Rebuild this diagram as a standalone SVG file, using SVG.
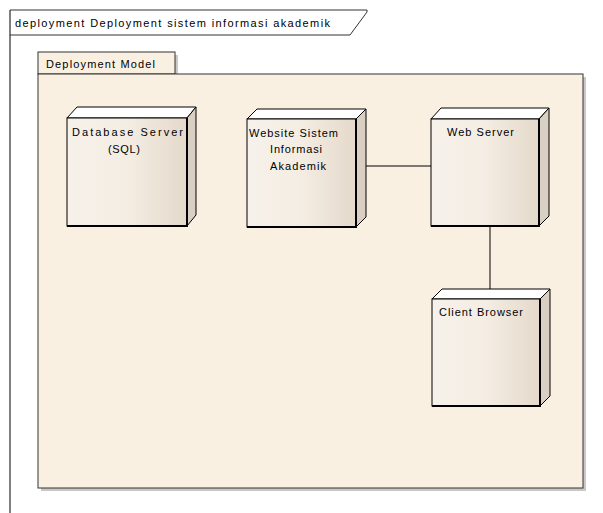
<svg xmlns="http://www.w3.org/2000/svg" width="603" height="513" viewBox="0 0 603 513">
<defs>
<linearGradient id="face" x1="0" y1="0" x2="1" y2="0">
<stop offset="0" stop-color="#F6F1EA"/>
<stop offset="0.5" stop-color="#F4EDE3"/>
<stop offset="1" stop-color="#E4D9CA"/>
</linearGradient>
<style>
text{font-family:"Liberation Sans",Arial,sans-serif;font-size:11px;fill:#000}
.front{fill:url(#face);stroke:#000;stroke-width:1}
.top{fill:#FFFFFF;stroke:#000;stroke-width:1}
.side{fill:#D9D0C3;stroke:#000;stroke-width:1}
.edge{stroke:#000;stroke-width:2;fill:none}
.conn{stroke:#000;stroke-width:1;fill:none}
</style>
</defs>
<rect width="603" height="513" fill="#FFFFFF"/>
<g id="frame">
<line x1="10" y1="10" x2="10" y2="513" stroke="#555" stroke-width="1.5"/>
<polyline points="10,10 367,10 367,12 350,35 10,35" fill="none" stroke="#333" stroke-width="1"/>
<text x="15" y="27" textLength="315" lengthAdjust="spacing">deployment Deployment sistem informasi akademik</text>
</g>
<g id="package">
<rect x="41" y="55" width="137" height="22" fill="#C8C8C8"/>
<rect x="41" y="77" width="545" height="414" fill="#C8C8C8"/>
<rect x="38" y="52" width="137" height="22" fill="#FAF0E2" stroke="#333" stroke-width="1"/>
<rect x="38" y="74" width="545" height="414" fill="#FAF0E2" stroke="#333" stroke-width="1"/>
<text x="46" y="68" textLength="109" lengthAdjust="spacing">Deployment Model</text>
</g>
<g id="connectors">
<line class="conn" x1="366" y1="166" x2="431" y2="166"/>
<line class="conn" x1="490" y1="226" x2="490" y2="289"/>
</g>
<g id="db-server">
<polygon class="top" points="67,118 77,107 196,107 187,118"/>
<polygon class="side" points="187,118 196,107 196,215 187,226"/>
<rect class="front" x="67" y="118" width="120" height="108"/>
<polyline class="edge" points="187,118 187,226 67,226"/>
<text x="72" y="136" textLength="111" lengthAdjust="spacing">Database Server</text>
<text x="108" y="153" textLength="32" lengthAdjust="spacing">(SQL)</text>
</g>
<g id="website">
<polygon class="top" points="247,119 257,109 366,109 356,119"/>
<polygon class="side" points="356,119 366,109 366,217 356,227"/>
<rect class="front" x="247" y="119" width="109" height="108"/>
<polyline class="edge" points="356,119 356,227 247,227"/>
<text x="249" y="137" textLength="89" lengthAdjust="spacing">Website Sistem</text>
<text x="270" y="153" textLength="52" lengthAdjust="spacing">Informasi</text>
<text x="270" y="170" textLength="56" lengthAdjust="spacing">Akademik</text>
</g>
<g id="web-server">
<polygon class="top" points="431,119 441,108 549,108 539,119"/>
<polygon class="side" points="539,119 549,108 549,216 539,226"/>
<rect class="front" x="431" y="119" width="108" height="107"/>
<polyline class="edge" points="539,119 539,226 431,226"/>
<text x="447" y="136" textLength="67" lengthAdjust="spacing">Web Server</text>
</g>
<g id="client-browser">
<polygon class="top" points="432,299 442,289 550,289 540,299"/>
<polygon class="side" points="540,299 550,289 550,396 540,406"/>
<rect class="front" x="432" y="299" width="108" height="107"/>
<polyline class="edge" points="540,299 540,406 432,406"/>
<text x="439" y="316" textLength="84" lengthAdjust="spacing">Client Browser</text>
</g>
</svg>
